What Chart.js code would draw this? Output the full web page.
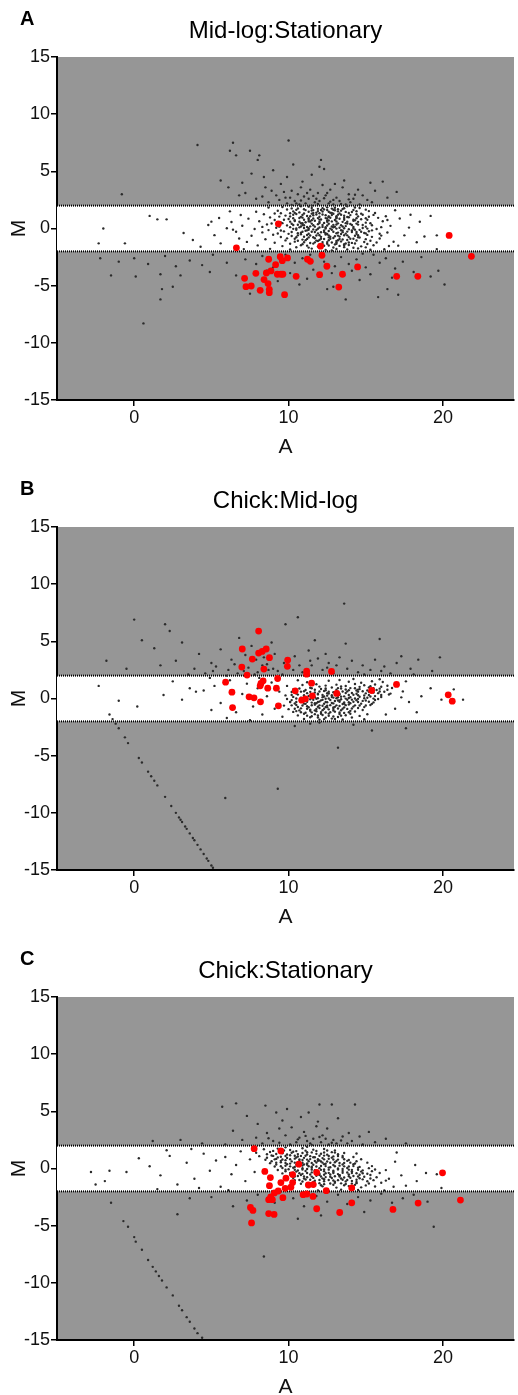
<!DOCTYPE html>
<html>
<head>
<meta charset="utf-8">
<script src="https://cdn.jsdelivr.net/npm/chart.js@4.4.1/dist/chart.umd.min.js"></script>
<style>
  html, body { margin: 0; padding: 0; background: #fff; }
  canvas { display: block; }
</style>
</head>
<body>
<canvas id="chartA" width="518" height="470"></canvas>
<canvas id="chartB" width="518" height="470"></canvas>
<canvas id="chartC" width="518" height="470"></canvas>
<script>
const xTicks = [0, 10, 20];
const yTicks = [-15, -10, -5, 0, 5, 10, 15];
const xRange = [-5, 24.6];
const yRange = [-15, 15];
const cutoff = [2, -2];

// A: Mid-log:Stationary
const aRed = [
    [9.34, 0.41], [20.4, -0.61], [6.62, -1.69], [12.07, -1.55], [12.16, -2.34], [21.84, -2.43],
    [8.71, -2.69], [9.46, -2.46], [9.59, -2.81], [9.93, -2.57], [11.22, -2.69], [11.41, -2.87],
    [9.16, -3.16], [12.48, -3.3], [14.47, -3.36], [7.88, -3.92], [8.56, -3.89], [8.86, -3.71],
    [9.27, -4.0], [9.5, -4.0], [9.63, -4.0], [10.49, -4.18], [12.01, -4.04], [13.49, -4.0],
    [17.0, -4.18], [18.37, -4.18], [7.15, -4.36], [8.41, -4.47], [7.24, -5.09], [7.58, -5.03],
    [8.67, -4.82], [13.25, -5.12], [8.16, -5.41], [8.75, -5.32], [8.75, -5.61], [9.74, -5.79]
];
const aGray = [
    [4.1,7.3],[6.4,7.5],[10.0,7.7],[6.2,6.8],[6.6,6.4],[7.5,6.8],[8.1,6.4],[8.0,6.0],[7.6,4.8],[12.1,6.0],
    [12.0,5.4],[12.3,5.2],[5.6,4.2],[-0.8,3.0],[8.4,4.5],[9.9,4.5],[15.3,4.0],[16.1,4.1],[17.0,3.2],[13.6,4.2],
    [9.5,3.9],[10.8,3.6],[11.5,4.7],[8.9,3.3],[7.2,3.1],[6.1,3.6],[10.3,5.6],[11.2,3.1],[12.7,3.4],[13.9,3.0],
    [14.8,2.9],[15.6,3.3],[9.2,2.9],[10.1,2.7],[11.0,2.8],[11.8,2.6],[12.4,2.9],[13.1,2.7],[14.2,2.6],[8.3,2.8],
    [9.7,3.2],[10.6,3.0],[11.4,3.4],[12.9,2.5],[13.5,3.6],[7.9,2.6],[6.8,2.9],[16.4,2.7],[15.1,2.5],[10.9,4.1],
    [12.2,3.8],[14.5,3.4],[9.0,5.1],[11.7,2.3],[10.4,2.4],[12.6,2.2],[13.3,2.4],[14.0,2.3],[9.4,2.5],[11.1,2.2],
    [10.7,2.1],[12.0,2.4],[11.5,2.0],[13.7,2.1],[9.9,2.2],[8.7,2.3],[14.6,2.1],[15.4,2.3],[12.9,2.1],[10.2,3.3],
    [11.9,3.1],[13.0,3.9],[8.5,3.6],[7.0,4.0],
    [10.8,2.45],[11.3,2.6],[11.9,2.15],[12.3,2.65],[12.7,2.35],[13.4,2.15],[13.9,2.55],[10.2,2.05],[9.8,2.7],[11.6,2.85],
    [12.5,3.1],[14.3,2.95],[10.5,2.2],
    [8.7,1.83],[10.2,1.76],[11.3,1.91],[11.9,1.72],[12.5,1.85],[13.2,1.68],[13.8,1.94],[14.6,1.79],[9.6,1.87],[12.1,1.62],
    [10.8,1.95],[12.8,1.74],[7.9,1.46],[9.3,1.55],[10.7,1.41],[11.5,1.58],[12.2,1.49],[12.8,1.37],[13.4,1.56],[14.1,1.44],
    [15.2,1.52],[10.1,1.33],[11.1,1.61],[13.0,1.59],[11.8,1.39],[12.5,1.62],[6.9,1.18],[8.4,1.25],[9.8,1.13],[10.5,1.27],
    [11.2,1.09],[11.8,1.22],[12.4,1.16],[12.9,1.29],[13.6,1.11],[14.4,1.24],[15.5,1.19],[16.3,1.07],[9.1,1.31],[12.6,1.03],
    [11.5,1.30],[13.2,1.21],[5.5,0.92],[7.4,0.86],[8.8,0.97],[10.0,0.83],[10.9,0.95],[11.6,0.88],[12.1,0.79],[12.7,0.94],
    [13.3,0.85],[13.9,0.98],[14.7,0.81],[15.8,0.93],[17.2,0.87],[11.3,0.76],[13.1,0.99],[12.4,0.91],[14.2,0.77],[6.3,0.57],
    [8.1,0.64],[9.5,0.52],[10.4,0.66],[11.1,0.55],[11.7,0.68],[12.3,0.49],[12.8,0.62],[13.5,0.58],[14.2,0.67],[15.0,0.51],
    [16.1,0.63],[18.5,0.59],[10.8,0.46],[12.6,0.71],[11.4,0.61],[13.8,0.44],[4.8,0.31],[7.0,0.24],[8.6,0.36],[9.9,0.27],
    [10.6,0.33],[11.4,0.19],[11.9,0.38],[12.5,0.26],[13.1,0.35],[13.7,0.21],[14.5,0.34],[15.4,0.28],[16.6,0.23],[12.2,0.14],
    [14.0,0.39],[11.0,0.29],[12.8,0.17],[6.0,0.02],[7.8,-0.05],[9.2,0.07],[10.3,-0.03],[11.0,0.05],[11.6,-0.08],[12.0,0.09],
    [12.7,-0.01],[13.3,0.06],[13.9,-0.07],[14.8,0.04],[15.7,-0.04],[17.8,0.08],[11.3,-0.12],[12.9,0.11],[10.7,0.1],[14.3,-0.1],
    [6.6,-0.28],[8.3,-0.34],[9.7,-0.25],[10.8,-0.37],[11.5,-0.29],[12.1,-0.33],[12.6,-0.22],[13.2,-0.36],[13.8,-0.27],[14.4,-0.31],
    [15.2,-0.24],[16.4,-0.35],[12.4,-0.41],[14.9,-0.39],[11.1,-0.2],[13.5,-0.19],[5.2,-0.58],[7.6,-0.63],[9.0,-0.55],[10.2,-0.66],
    [11.2,-0.57],[11.8,-0.61],[12.4,-0.53],[13.0,-0.68],[13.6,-0.59],[14.3,-0.64],[15.1,-0.56],[16.0,-0.62],[17.5,-0.6],[13.4,-0.48],
    [12.7,-0.72],[10.8,-0.5],[6.8,-0.88],[8.5,-0.94],[9.9,-0.86],[10.9,-0.97],[11.7,-0.85],[12.3,-0.92],[12.9,-0.83],[13.5,-0.96],
    [14.2,-0.89],[15.0,-0.93],[15.9,-0.87],[12.0,-1.01],[14.6,-0.79],[11.3,-0.78],[13.2,-1.03],[7.3,-1.17],[9.1,-1.24],[10.4,-1.15],
    [11.4,-1.27],[12.2,-1.19],[12.8,-1.22],[13.4,-1.13],[14.1,-1.26],[14.9,-1.18],[15.7,-1.23],[16.8,-1.16],[13.7,-1.31],[11.9,-1.09],
    [12.5,-1.34],[8.0,-1.48],[9.6,-1.54],[10.8,-1.46],[11.9,-1.57],[12.6,-1.49],[13.3,-1.52],[13.9,-1.44],[14.7,-1.56],[15.5,-1.47],
    [16.5,-1.53],[12.1,-1.61],[13.0,-1.39],[8.8,-1.78],[10.1,-1.84],[11.5,-1.76],[12.4,-1.87],[13.1,-1.79],[13.8,-1.83],[14.5,-1.74],
    [15.3,-1.86],[16.2,-1.81],[12.8,-1.93],
    [9.9,1.66],[10.5,1.63],[11.0,1.69],[11.6,1.61],[12.3,1.67],[12.9,1.64],[13.5,1.7],[14.2,1.62],[15.0,1.65],
    [9.5,1.34],[10.4,1.37],[11.0,1.31],[11.6,1.36],[12.0,1.33],[12.7,1.38],[13.3,1.32],[13.9,1.35],[14.7,1.3],[15.6,1.36],
    [9.4,1.04],[10.1,1.06],[10.8,1.02],[11.4,1.07],[12.0,1.03],[12.6,1.05],[13.1,1.08],[13.8,1.01],[14.5,1.06],[15.2,1.03],
    [9.1,0.74],[9.7,0.77],[10.4,0.72],[11.0,0.76],[11.5,0.73],[12.0,0.78],[12.5,0.71],[13.0,0.75],[13.6,0.77],[14.3,0.72],
    [15.1,0.76],[16.4,0.74],[8.9,0.44],[9.6,0.47],[10.2,0.42],[10.9,0.46],[11.5,0.43],[12.0,0.48],[12.6,0.41],[13.2,0.45],
    [13.7,0.47],[14.4,0.43],[15.3,0.46],[8.3,0.14],[9.4,0.16],[10.1,0.12],[10.8,0.17],[11.2,0.13],[11.7,0.16],[12.4,0.11],
    [13.0,0.15],[13.5,0.18],[14.2,0.13],[15.0,0.16],[16.0,0.12],[8.7,-0.14],[9.5,-0.17],[10.5,-0.12],[11.2,-0.16],[11.8,-0.13],
    [12.3,-0.18],[12.8,-0.11],[13.4,-0.15],[14.1,-0.17],[14.6,-0.12],[15.4,-0.16],[9.3,-0.44],[10.0,-0.47],[10.6,-0.42],[11.3,-0.46],
    [11.9,-0.43],[12.5,-0.48],[13.1,-0.41],[13.7,-0.45],[14.4,-0.47],[15.0,-0.43],[15.9,-0.46],[9.5,-0.74],[10.5,-0.77],[11.0,-0.72],
    [11.6,-0.76],[12.1,-0.73],[12.6,-0.78],[13.3,-0.71],[13.9,-0.75],[14.5,-0.77],[15.4,-0.73],[9.8,-1.04],[10.6,-1.07],[11.1,-1.02],
    [11.8,-1.06],[12.6,-1.03],[13.1,-1.08],[13.8,-1.01],[14.4,-1.05],[15.3,-1.07],[10.1,-1.34],[10.9,-1.37],[11.6,-1.32],[12.2,-1.36],
    [13.1,-1.33],[13.6,-1.38],[14.3,-1.31],[15.1,-1.35],[10.5,-1.64],[11.3,-1.67],[12.0,-1.62],[12.9,-1.66],[13.6,-1.63],[14.2,-1.68],
    [15.0,-1.65],
    [10.6,1.75],[11.5,1.8],[12.2,1.78],[13.0,1.82],[13.6,1.77],[14.3,1.84],[10.3,1.5],[11.3,1.47],[11.9,1.52],[12.6,1.46],
    [13.2,1.5],[13.7,1.45],[14.4,1.51],[10.3,1.2],[10.9,1.19],[11.6,1.16],[12.2,1.22],[12.8,1.18],[13.4,1.2],[14.0,1.17],
    [14.8,1.2],[10.3,0.9],[10.7,0.92],[11.3,0.89],[11.9,0.91],[12.5,0.88],[13.1,0.9],[13.6,0.92],[14.4,0.89],[15.0,0.9],
    [10.1,0.6],[10.7,0.59],[11.3,0.62],[12.0,0.6],[12.5,0.58],[13.1,0.61],[13.8,0.6],[14.5,0.58],[10.3,0.3],[10.9,0.31],
    [11.6,0.29],[12.2,0.3],[12.9,0.32],[13.4,0.29],[14.1,0.31],[14.8,0.3],[10.5,0.0],[11.3,0.02],[11.9,-0.02],[12.4,0.0],
    [13.1,-0.01],[13.6,0.02],[14.2,0.0],[15.1,-0.01],[10.2,-0.3],[10.9,-0.29],[11.7,-0.31],[12.3,-0.3],[12.9,-0.28],[13.5,-0.32],
    [14.1,-0.3],[14.7,-0.29],[10.6,-0.6],[11.4,-0.61],[12.0,-0.59],[12.6,-0.6],[13.2,-0.62],[13.8,-0.6],[14.5,-0.58],[10.4,-0.9],
    [11.2,-0.91],[12.1,-0.89],[12.7,-0.9],[13.3,-0.92],[14.0,-0.9],[11.0,-1.2],[11.7,-1.21],[12.5,-1.19],[13.1,-1.2],[13.9,-1.22],
    [11.2,-1.5],[12.3,-1.51],[13.6,-1.49],
    [-2.0,0.0],[-2.3,-1.3],[-0.6,-1.3],[1.0,1.1],[1.5,0.8],[2.1,0.8],[3.2,-0.4],[3.8,-1.0],[5.6,-1.3],[18.8,-0.7],
    [19.6,-0.6],[19.2,1.1],[17.9,1.2],[19.6,-1.8],[4.3,-1.6],[6.2,1.5],[5.0,0.6],[18.3,-1.2],[17.1,-1.5],[16.9,1.6],
    [7.1,-1.8],[6.4,-0.1],
    [-2.2,-2.6],[-1.0,-2.9],[0.0,-2.6],[0.9,-3.1],[2.0,-2.4],[2.7,-3.3],[3.6,-2.8],[4.4,-3.2],[5.1,-2.3],[6.0,-3.0],
    [-1.5,-4.1],[0.1,-4.2],[1.7,-4.0],[3.0,-4.1],[4.9,-3.8],[1.8,-5.3],[2.5,-5.1],[1.7,-6.2],[0.6,-8.3],[6.6,-4.1],
    [7.2,-2.7],[7.9,-3.1],[8.3,-2.4],[9.0,-3.4],[9.8,-2.3],[10.4,-3.0],[10.9,-2.6],[11.6,-3.6],[12.3,-2.9],[12.8,-3.9],
    [13.4,-2.5],[13.9,-3.1],[14.4,-2.7],[15.0,-3.4],[15.5,-2.3],[15.9,-3.0],[16.3,-2.6],[16.9,-3.5],[17.4,-2.9],[18.1,-3.8],
    [18.6,-2.5],[19.2,-4.2],[19.7,-3.7],[20.1,-4.9],[16.4,-5.3],[15.8,-6.0],[17.1,-5.8],[13.7,-6.2],[12.5,-5.3],[12.9,-5.1],
    [11.2,-4.4],[10.7,-4.9],[14.6,-4.5],[15.3,-4.0],[16.7,-4.3],[7.5,-5.7],[9.3,-4.6],[11.9,-4.0],[14.1,-3.7],[13.0,-3.3],
    [10.1,-3.9],[8.6,-3.7],[12.1,-2.2],[14.8,-2.2],[11.4,-2.3],[13.6,-4.1]
];

// B: Chick:Mid-log
const bRed = [
    [8.06, 5.9], [7.0, 4.33], [8.06, 3.97], [8.29, 4.12], [8.55, 4.33], [7.65, 3.45], [8.76, 3.57],
    [9.94, 3.36], [9.92, 2.81], [6.97, 2.75], [8.4, 2.57], [11.17, 2.4], [11.17, 2.13], [12.78, 2.37],
    [7.31, 2.05], [9.29, 1.75], [5.92, 1.43], [8.35, 1.55], [8.21, 1.32], [8.16, 1.11], [11.49, 1.34],
    [16.99, 1.23], [6.33, 0.55], [8.65, 0.9], [9.21, 0.9], [10.43, 0.67], [15.38, 0.7], [13.12, 0.44],
    [20.34, 0.32], [20.6, -0.23], [7.44, 0.15], [7.76, 0.06], [8.18, -0.29], [10.85, -0.15], [11.09, -0.03],
    [11.54, 0.23], [9.34, -0.64], [6.37, -0.79]
];
const bGray = [
    [0.0,6.9],[2.0,6.5],[2.3,5.9],[13.6,8.3],[10.6,7.1],[9.8,6.5],[0.5,5.1],[15.9,5.2],[13.7,4.8],[-1.8,3.3],
    [17.3,3.7],[1.3,4.4],[3.1,4.9],[4.2,3.9],[5.0,3.1],[5.6,4.3],[6.3,3.4],[6.8,5.3],[7.6,4.6],[8.9,4.9],
    [9.1,3.9],[9.7,3.1],[10.4,3.7],[11.3,4.2],[11.9,3.5],[12.6,3.1],[13.3,3.6],[14.1,3.3],[14.8,2.9],[15.6,3.4],
    [16.2,2.8],[17.0,3.1],[17.9,2.6],[18.4,3.4],[19.3,2.4],[3.9,2.6],[4.6,2.2],[5.3,2.8],[6.1,2.5],[6.7,2.2],
    [7.4,2.7],[8.0,2.3],[8.6,3.0],[9.3,2.4],[10.0,2.7],[10.9,2.3],[11.5,2.9],[12.2,2.5],[12.9,2.2],[13.8,2.6],
    [14.5,2.3],[15.3,2.5],[16.6,2.2],[7.9,3.4],[8.3,2.9],[7.2,3.8],[6.0,2.0],[5.1,2.4],[9.6,2.1],[11.1,2.1],
    [10.3,2.5],[-0.5,2.6],[1.7,2.9],[2.7,3.3],[3.5,2.1],[19.8,3.6],[11.7,5.1],[8.4,3.6],[12.4,3.9],
    [7.8,2.1],[9.0,2.6],[9.9,3.5],[10.7,2.9],[11.4,3.3],[12.5,2.7],[13.1,2.9],[8.7,2.5],[7.1,2.4],[6.5,3.0],
    [14.9,2.1],[16.0,2.4],[18.1,2.1],
    [-2.3,1.1],[-1.0,-0.2],[0.2,-0.7],[1.9,0.3],[2.5,1.5],[3.1,-0.1],[4.0,0.6],[4.5,0.7],[5.2,1.1],[5.6,-0.4],
    [6.2,1.6],[6.6,-1.2],[7.0,0.4],[7.3,1.3],[7.7,-0.7],[8.0,0.9],[8.3,-1.4],[8.6,0.2],[8.9,1.4],[9.1,-0.9],
    [9.4,0.6],[9.6,-1.6],[9.9,1.1],[10.1,-0.3],[10.3,0.8],[10.5,-1.1],[10.6,1.6],[6.0,-1.7],[7.5,-1.9],[5.0,-1.0],
    [3.6,0.9],[4.9,1.8],[8.1,1.8],
    [11.2,1.42],[12.6,1.55],[13.9,1.47],[14.7,1.38],[15.4,1.51],[16.1,1.44],[13.3,1.62],[15.9,1.68],[14.2,1.71],[10.9,1.18],
    [11.8,1.25],[12.4,1.13],[13.1,1.21],[13.7,1.09],[14.3,1.27],[14.9,1.16],[15.6,1.22],[16.4,1.11],[17.1,1.19],[10.7,0.88],
    [11.4,0.94],[12.1,0.83],[12.8,0.96],[13.4,0.87],[14.0,0.91],[14.6,0.82],[15.2,0.97],[15.9,0.86],[16.7,0.92],[13.7,0.79],
    [10.2,0.57],[11.0,0.63],[11.7,0.52],[12.3,0.66],[12.9,0.55],[13.5,0.61],[14.1,0.48],[14.8,0.64],[15.5,0.53],[16.2,0.59],
    [17.4,0.62],[12.6,0.44],[14.4,0.7],[9.8,0.27],[10.6,0.34],[11.3,0.22],[11.9,0.36],[12.5,0.25],[13.0,0.31],[13.6,0.19],
    [14.2,0.33],[14.9,0.26],[15.6,0.21],[16.5,0.35],[12.2,0.12],[13.3,0.41],[11.6,0.15],[9.9,-0.04],[10.8,0.06],[11.4,-0.07],
    [11.9,0.03],[12.4,-0.02],[12.9,0.08],[13.4,-0.06],[13.9,0.05],[14.5,-0.03],[15.1,0.07],[15.8,-0.05],[12.2,-0.12],[13.2,0.11],
    [11.1,0.09],[14.1,-0.1],[10.1,-0.31],[10.9,-0.24],[11.5,-0.36],[12.0,-0.27],[12.5,-0.33],[13.0,-0.22],[13.6,-0.35],[14.2,-0.28],
    [14.8,-0.21],[15.5,-0.34],[11.8,-0.42],[12.8,-0.39],[13.3,-0.18],[11.2,-0.17],[9.7,-0.62],[10.5,-0.56],[11.2,-0.67],[11.7,-0.54],
    [12.2,-0.63],[12.7,-0.58],[13.3,-0.66],[13.9,-0.52],[14.6,-0.61],[15.3,-0.57],[12.4,-0.74],[13.6,-0.47],[11.0,-0.45],[10.0,-0.93],
    [10.8,-0.86],[11.4,-0.97],[12.0,-0.84],[12.6,-0.95],[13.2,-0.88],[13.8,-0.91],[14.5,-0.83],[11.7,-1.04],[12.9,-0.78],[10.3,-1.17],
    [11.1,-1.25],[11.8,-1.12],[12.4,-1.23],[13.0,-1.15],[13.6,-1.26],[14.3,-1.14],[12.1,-1.33],[10.6,-1.48],[11.5,-1.55],[12.2,-1.44],
    [12.9,-1.57],[13.7,-1.46],[14.6,-1.52],[11.9,-1.66],[11.0,-1.79],[12.0,-1.86],[12.8,-1.76],[13.5,-1.84],[14.9,-1.81],
    [12.0,1.04],[13.4,1.06],[14.6,1.02],[15.3,1.07],[16.0,1.03],[11.1,0.74],[11.7,0.77],[12.4,0.72],[13.1,0.76],[13.9,0.73],
    [14.5,0.78],[15.1,0.71],[15.7,0.75],[16.4,0.77],[10.5,0.44],[11.2,0.47],[11.9,0.42],[12.5,0.46],[13.1,0.43],[13.7,0.48],
    [14.4,0.41],[15.0,0.45],[15.8,0.47],[16.6,0.43],[10.3,0.14],[11.0,0.16],[11.7,0.12],[12.3,0.17],[12.8,0.13],[13.4,0.16],
    [14.0,0.11],[14.6,0.15],[15.3,0.17],[16.0,0.13],[10.2,-0.14],[10.9,-0.17],[11.6,-0.12],[12.1,-0.16],[12.7,-0.13],[13.2,-0.18],
    [13.8,-0.11],[14.4,-0.15],[15.0,-0.17],[15.6,-0.13],[10.4,-0.44],[11.1,-0.47],[11.7,-0.42],[12.3,-0.46],[12.9,-0.43],[13.5,-0.48],
    [14.0,-0.41],[14.7,-0.45],[15.4,-0.47],[10.6,-0.74],[11.3,-0.77],[11.9,-0.72],[12.5,-0.76],[13.0,-0.73],[13.6,-0.78],[14.2,-0.71],
    [14.9,-0.75],[10.7,-1.04],[11.4,-1.07],[12.2,-1.02],[12.9,-1.06],[13.4,-1.03],[14.0,-1.08],[14.8,-1.01],[11.0,-1.34],[11.7,-1.37],
    [12.6,-1.32],[13.3,-1.36],[14.0,-1.33],[15.1,-1.38],[11.4,-1.64],[12.4,-1.67],[13.2,-1.62],[14.1,-1.66],
    [11.5,0.9],[12.4,0.88],[13.2,0.91],[14.3,0.9],[15.5,0.89],[10.8,0.6],[11.4,0.58],[12.0,0.61],[12.6,0.6],[13.2,0.59],
    [13.8,0.62],[14.5,0.6],[15.2,0.59],[15.9,0.61],[10.2,0.3],[11.0,0.29],[11.6,0.31],[12.2,0.3],[12.8,0.28],[13.3,0.32],
    [13.9,0.3],[14.5,0.29],[15.2,0.31],[16.0,0.3],[10.5,0.0],[11.2,0.01],[11.8,-0.02],[12.6,0.0],[13.1,0.02],[13.7,-0.01],
    [14.3,0.0],[14.9,0.02],[15.5,-0.01],[10.5,-0.3],[11.2,-0.29],[11.9,-0.31],[12.4,-0.3],[13.3,-0.28],[13.9,-0.32],[14.5,-0.3],
    [15.2,-0.29],[10.2,-0.6],[10.9,-0.61],[11.5,-0.59],[12.0,-0.6],[12.5,-0.62],[13.1,-0.6],[13.7,-0.58],[14.3,-0.6],[15.0,-0.61],
    [10.4,-0.9],[11.2,-0.89],[11.8,-0.91],[12.3,-0.9],[12.9,-0.92],[13.5,-0.9],[14.1,-0.88],[10.8,-1.2],[11.5,-1.21],[12.1,-1.19],
    [12.7,-1.2],[13.3,-1.22],[13.9,-1.2],[11.2,-1.5],[11.9,-1.49],[12.6,-1.51],[13.4,-1.5],[12.3,-1.8],[13.0,-1.79],
    [17.8,-0.3],[18.6,0.2],[19.2,0.9],[19.9,-0.1],[21.3,-0.1],[17.6,1.5],[18.3,-1.2],[20.7,0.8],[16.9,-0.9],[16.3,-1.4],
    [17.3,0.1],
    [12.0,-2.1],[17.6,-2.6],[15.4,-2.8],[14.2,-2.3],[11.4,-2.2],[13.2,-4.3],[5.9,-8.7],[9.3,-7.9],[10.4,-2.4],
    [-1.6,-1.4],[-1.4,-1.8],[-1.2,-2.2],[-1.0,-2.6],[-0.6,-3.4],[-0.4,-3.9],[0.3,-5.2],[0.5,-5.6],[0.9,-6.4],[1.1,-6.8],
    [1.3,-7.2],[1.5,-7.6],[2.0,-8.6],[2.4,-9.4],[2.7,-10.0],[2.9,-10.4],[3.0,-10.6],[3.1,-10.8],[3.3,-11.2],[3.4,-11.4],
    [3.6,-11.8],[3.8,-12.2],[3.9,-12.4],[4.1,-12.8],[4.3,-13.2],[4.5,-13.6],[4.7,-14.0],[4.8,-14.2],[5.0,-14.6],[5.1,-14.8]
];

// C: Chick:Stationary
const cRed = [
    [7.77, 1.73], [9.5, 1.53], [10.66, 0.38], [8.46, -0.26], [11.82, -0.35], [19.97, -0.38], [10.26, -0.53],
    [8.82, -0.79], [9.83, -0.85], [10.26, -1.23], [9.5, -1.23], [8.76, -1.5], [11.28, -1.44], [11.6, -1.41],
    [9.78, -1.73], [10.15, -1.64], [14.09, -1.7], [12.44, -1.94], [9.33, -1.97], [9.08, -2.14], [10.94, -2.29],
    [11.18, -2.23], [11.58, -2.44], [8.84, -2.49], [9.63, -2.55], [8.71, -2.73], [8.95, -2.73], [14.09, -3.0],
    [18.39, -3.02], [21.13, -2.76], [7.53, -3.41], [7.69, -3.67], [11.82, -3.52], [16.76, -3.58], [13.31, -3.85],
    [8.71, -3.94], [9.06, -4.02], [7.6, -4.76]
];
const cGray = [
    [5.7,5.4],[6.6,5.7],[8.5,5.5],[12.0,5.6],[12.8,5.6],[14.3,5.6],[9.2,4.9],[10.8,4.5],[15.2,3.2],[1.2,2.4],
    [7.3,4.6],[8.0,3.9],[9.6,4.2],[10.2,3.6],[11.3,4.9],[11.9,4.1],[12.5,3.5],[13.2,4.4],[13.9,3.1],[14.6,2.8],
    [7.9,2.7],[8.6,3.1],[9.0,2.4],[9.8,2.9],[10.5,2.3],[11.0,3.2],[11.6,2.6],[12.2,2.9],[12.9,2.5],[13.5,2.8],
    [14.1,2.4],[10.1,2.1],[11.4,2.2],[12.6,2.1],[13.8,2.2],[8.3,2.2],[7.0,2.5],[6.4,3.3],[5.9,2.1],[15.6,2.3],
    [16.3,2.6],[9.4,3.5],[10.7,2.7],[12.1,2.3],[13.1,2.2],[11.8,3.7],[14.8,2.1],[4.4,2.2],[3.0,2.5],[17.6,2.2],
    [2.1,1.6],[9.9,5.2],[12.4,2.6],[11.2,2.4],
    [10.6,2.55],[11.5,2.05],[12.0,2.75],[12.8,2.25],[13.4,2.45],[9.4,2.25],[8.7,2.65],[11.1,2.85],
    [-2.8,-0.3],[-1.9,-1.1],[-1.6,-0.2],[-0.5,-0.3],[-2.5,-1.4],[0.3,0.9],[1.0,0.2],[1.7,-0.6],[2.3,1.1],[2.8,-1.4],
    [3.4,0.5],[3.9,-0.9],[4.5,1.3],[4.9,-0.2],[5.3,0.7],[5.6,-1.6],[5.9,1.0],[6.3,-0.5],[6.6,0.3],[6.9,1.5],
    [7.2,-1.1],[7.5,0.8],[7.8,-0.3],[4.2,-1.7],[1.5,-1.8],[3.7,1.7],[6.1,-1.9],
    [8.4,1.68],[9.3,1.74],[10.1,1.62],[10.9,1.77],[11.6,1.65],[12.3,1.71],[13.0,1.58],[9.8,1.85],[11.2,1.9],[7.9,1.38],
    [8.8,1.44],[9.6,1.33],[10.3,1.46],[10.9,1.35],[11.5,1.41],[12.1,1.29],[12.8,1.43],[13.6,1.36],[14.4,1.31],[8.1,1.08],
    [8.9,1.14],[9.5,1.03],[10.1,1.16],[10.6,1.05],[11.1,1.12],[11.7,0.99],[12.3,1.13],[12.9,1.06],[13.5,1.1],[14.2,1.01],
    [8.5,0.77],[9.2,0.84],[9.8,0.73],[10.4,0.86],[10.9,0.75],[11.4,0.82],[12.0,0.71],[12.6,0.85],[13.2,0.78],[13.9,0.74],
    [14.7,0.81],[11.7,0.66],[8.8,0.47],[9.5,0.54],[10.1,0.43],[10.7,0.56],[11.2,0.45],[11.8,0.52],[12.4,0.41],[13.0,0.55],
    [13.6,0.48],[14.3,0.44],[15.1,0.51],[12.1,0.61],[9.1,0.17],[9.8,0.24],[10.4,0.13],[10.9,0.26],[11.5,0.15],[12.1,0.22],
    [12.7,0.11],[13.3,0.25],[13.9,0.18],[14.6,0.14],[15.4,0.21],[11.2,0.32],[9.3,-0.13],[10.0,-0.06],[10.6,-0.17],[11.2,-0.04],
    [11.7,-0.15],[12.3,-0.08],[12.9,-0.19],[13.5,-0.05],[14.1,-0.12],[14.8,-0.16],[15.6,-0.09],[16.3,-0.14],[9.6,-0.43],[10.3,-0.36],
    [10.9,-0.47],[11.5,-0.34],[12.0,-0.45],[12.6,-0.38],[13.2,-0.49],[13.8,-0.35],[14.4,-0.42],[15.1,-0.46],[15.9,-0.39],[12.3,-0.55],
    [9.9,-0.73],[10.6,-0.66],[11.2,-0.77],[11.8,-0.64],[12.4,-0.75],[13.0,-0.68],[13.6,-0.79],[14.2,-0.65],[14.9,-0.72],[15.7,-0.76],
    [13.3,-0.58],[10.4,-1.03],[11.1,-0.96],[11.7,-1.07],[12.3,-0.94],[12.9,-1.05],[13.5,-0.98],[14.1,-1.09],[14.8,-0.95],[15.5,-1.02],
    [16.3,-1.06],[10.8,-1.33],[11.6,-1.26],[12.3,-1.37],[13.0,-1.24],[13.7,-1.35],[14.4,-1.28],[15.2,-1.31],[16.0,-1.25],[11.3,-1.63],
    [12.2,-1.56],[13.1,-1.67],[13.9,-1.54],[14.7,-1.65],[15.6,-1.58],[16.8,-1.6],[11.9,-1.93],[13.4,-1.86],[14.5,-1.88],[16.2,-1.91],
    [9.0,1.54],[9.7,1.57],[10.5,1.52],[11.1,1.56],[11.8,1.53],[12.5,1.58],[8.6,1.24],[9.2,1.27],[9.9,1.22],[10.6,1.26],
    [11.2,1.23],[11.8,1.28],[12.5,1.21],[13.2,1.25],[8.6,0.94],[9.3,0.97],[9.9,0.92],[10.5,0.96],[11.0,0.93],[11.6,0.98],
    [12.2,0.91],[12.8,0.95],[13.5,0.97],[8.9,0.64],[9.5,0.67],[10.2,0.62],[10.7,0.66],[11.3,0.63],[11.9,0.68],[12.5,0.61],
    [13.1,0.65],[13.8,0.67],[14.4,0.63],[9.2,0.34],[9.9,0.37],[10.5,0.32],[11.0,0.36],[11.6,0.33],[12.3,0.38],[12.9,0.31],
    [13.5,0.35],[14.2,0.37],[9.6,0.04],[10.3,0.07],[10.9,0.02],[11.5,0.06],[12.0,0.03],[12.6,0.08],[13.2,0.01],[13.8,0.05],
    [14.5,0.07],[15.2,0.03],[9.8,-0.24],[10.5,-0.27],[11.1,-0.22],[11.7,-0.26],[12.3,-0.23],[12.9,-0.28],[13.5,-0.21],[14.1,-0.25],
    [14.7,-0.27],[15.4,-0.23],[10.1,-0.54],[10.8,-0.57],[11.4,-0.52],[12.0,-0.56],[12.7,-0.53],[13.3,-0.58],[13.9,-0.51],[14.6,-0.55],
    [15.3,-0.57],[10.3,-0.84],[11.0,-0.87],[11.6,-0.82],[12.2,-0.86],[12.8,-0.83],[13.4,-0.88],[14.0,-0.81],[14.6,-0.85],[15.3,-0.87],
    [10.9,-1.14],[11.6,-1.17],[12.3,-1.12],[13.0,-1.16],[13.7,-1.13],[14.4,-1.18],[15.1,-1.11],[11.4,-1.44],[12.1,-1.47],[12.9,-1.42],
    [13.6,-1.46],[14.3,-1.43],[15.0,-1.48],
    [9.6,1.4],[10.2,1.38],[11.2,1.42],[12.3,1.4],[13.0,1.39],[9.0,1.1],[9.8,1.09],[10.4,1.11],[10.8,1.1],[11.4,1.08],
    [12.0,1.12],[12.6,1.1],[13.2,1.09],[9.1,0.8],[9.6,0.79],[10.1,0.81],[10.7,0.8],[11.2,0.78],[11.9,0.81],[12.3,0.8],
    [12.9,0.79],[13.6,0.81],[9.2,0.5],[9.8,0.49],[10.4,0.51],[10.9,0.5],[11.5,0.48],[12.2,0.51],[12.7,0.5],[13.3,0.49],
    [14.0,0.51],[9.5,0.2],[10.1,0.19],[10.7,0.21],[11.3,0.2],[11.8,0.18],[12.4,0.21],[13.0,0.2],[13.6,0.19],[14.2,0.21],
    [9.8,-0.1],[10.4,-0.11],[10.9,-0.09],[11.5,-0.1],[12.1,-0.12],[12.6,-0.1],[13.2,-0.08],[13.9,-0.1],[14.5,-0.11],[10.1,-0.4],
    [10.7,-0.41],[11.2,-0.39],[11.8,-0.4],[12.4,-0.42],[12.9,-0.4],[13.5,-0.38],[14.1,-0.4],[14.8,-0.41],[10.4,-0.7],[11.0,-0.69],
    [11.5,-0.71],[12.1,-0.7],[12.7,-0.72],[13.3,-0.7],[13.9,-0.68],[14.5,-0.7],[10.7,-1.0],[11.4,-0.99],[12.0,-1.01],[12.6,-1.0],
    [13.2,-1.02],[13.8,-1.0],[14.4,-0.98],[11.2,-1.3],[12.0,-1.29],[12.7,-1.31],[13.4,-1.3],[14.1,-1.32],
    [17.3,-0.6],[18.2,0.3],[18.9,-0.4],[19.6,-0.5],[17.0,1.4],[18.3,-1.1],[19.9,-1.7],[17.6,-1.5],[16.9,0.6],[16.5,-0.9],
    [-1.5,-3.0],[2.8,-4.0],[19.4,-5.1],[5.0,-2.5],[6.4,-3.3],[8.0,-2.3],[9.1,-3.0],[10.3,-2.6],[11.0,-3.3],[11.8,-2.4],
    [12.5,-2.9],[13.2,-2.3],[13.8,-3.1],[14.5,-2.5],[15.3,-2.8],[16.0,-2.2],[16.7,-3.0],[17.4,-2.6],[18.1,-2.3],[19.0,-2.9],
    [8.4,-7.7],[12.1,-4.1],[14.9,-3.8],[10.6,-4.4],[7.3,-2.8],[3.6,-2.6],
    [-0.7,-4.6],[-0.4,-5.1],[0.0,-6.0],[0.1,-6.4],[0.5,-7.1],[0.9,-8.0],[1.2,-8.6],[1.4,-9.0],[1.6,-9.4],[1.8,-9.8],
    [2.1,-10.4],[2.5,-11.1],[2.9,-12.0],[3.1,-12.4],[3.4,-13.0],[3.6,-13.4],[3.9,-14.0],[4.1,-14.4],[4.4,-14.8]
];

const FONT = "Arial, 'Liberation Sans', Helvetica, sans-serif";

const toPts = list => list.map(([x, y]) => ({ x, y }));
const hLine = y => [{ x: xRange[0], y }, { x: xRange[1], y }];

// grey plot area + panel letter and title
const panelDecor = {
    id: "panelDecor",
    beforeDraw(chart) {
        const { ctx, chartArea: a } = chart;
        ctx.save();
        ctx.fillStyle = "#969696";
        ctx.fillRect(a.left, a.top, a.right - a.left, a.bottom - a.top);
        ctx.restore();
    },
    afterDraw(chart, args, opts) {
        const { ctx, chartArea: a } = chart;
        ctx.save();
        ctx.fillStyle = "#000";
        ctx.textBaseline = "alphabetic";
        ctx.textAlign = "left";
        ctx.font = "bold 20px " + FONT;
        ctx.fillText(opts.letter, 20, 25);
        ctx.textAlign = "center";
        ctx.font = "24px " + FONT;
        ctx.fillText(opts.title, (a.left + a.right) / 2, 38);
        ctx.restore();
    }
};

function makePanel(id, letter, title, gray, red) {
    const ctx = document.getElementById(id).getContext("2d");
    return new Chart(ctx, {
        type: "scatter",
        data: {
            datasets: [
                {
                    type: "line",
                    data: hLine(cutoff[0]),
                    borderColor: "#000",
                    borderWidth: 2,
                    borderDash: [1, 1],
                    backgroundColor: "#fff",
                    fill: "+1",
                    pointRadius: 0,
                    order: 10,
                },
                {
                    type: "line",
                    data: hLine(cutoff[1]),
                    borderColor: "#000",
                    borderWidth: 2,
                    borderDash: [1, 1],
                    fill: false,
                    pointRadius: 0,
                    order: 9,
                },
                {
                    data: toPts(gray),
                    backgroundColor: "#2b2b2b",
                    borderWidth: 0,
                    pointRadius: 1.2,
                    order: 2,
                },
                {
                    data: toPts(red),
                    backgroundColor: "#ff0000",
                    borderWidth: 0,
                    pointRadius: 3.4,
                    order: 1,
                },
            ],
        },
        options: {
            responsive: false,
            animation: false,
            layout: { padding: { top: 57, right: 0, bottom: 0, left: 0 } },
            plugins: {
                legend: { display: false },
                tooltip: { enabled: false },
                panelDecor: { letter, title },
            },
            scales: {
                x: {
                    type: "linear",
                    min: xRange[0],
                    max: xRange[1],
                    afterBuildTicks: s => { s.ticks = xTicks.map(v => ({ value: v })); },
                    afterFit: s => { s.height = 70; },
                    grid: { drawOnChartArea: false, drawTicks: true, tickLength: 6, color: "#000", lineWidth: 1.5 },
                    border: { color: "#000", width: 2 },
                    ticks: { color: "#111", font: { family: FONT, size: 18 }, padding: 1, maxRotation: 0 },
                    title: { display: true, text: "A", color: "#111", font: { family: FONT, size: 21 }, padding: { top: 0, bottom: 10 } },
                },
                y: {
                    type: "linear",
                    min: yRange[0],
                    max: yRange[1],
                    afterBuildTicks: s => { s.ticks = yTicks.map(v => ({ value: v })); },
                    afterFit: s => { s.width = 57; },
                    grid: { drawOnChartArea: false, drawTicks: true, tickLength: 6, color: "#000", lineWidth: 1.5 },
                    border: { color: "#000", width: 2 },
                    ticks: { color: "#111", font: { family: FONT, size: 18 }, padding: 1 },
                    title: { display: true, text: "M", color: "#111", font: { family: FONT, size: 21 }, padding: { top: 7, bottom: 0 } },
                },
            },
        },
        plugins: [panelDecor],
    });
}

makePanel("chartA", "A", "Mid-log:Stationary", aGray, aRed);
makePanel("chartB", "B", "Chick:Mid-log", bGray, bRed);
makePanel("chartC", "C", "Chick:Stationary", cGray, cRed);
</script>
</body>
</html>
